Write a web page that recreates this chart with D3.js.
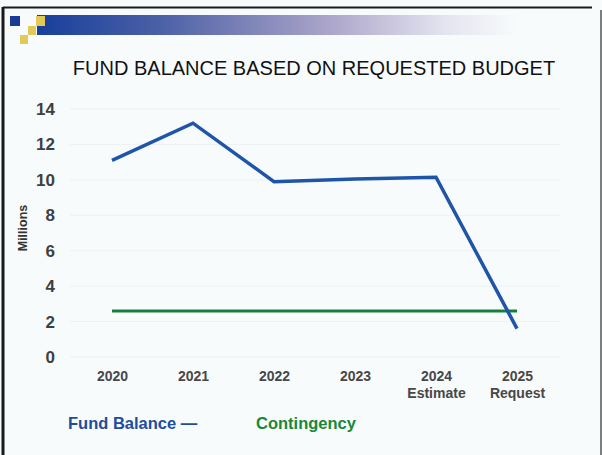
<!DOCTYPE html>
<html><head><meta charset="utf-8">
<script src="https://cdn.jsdelivr.net/npm/d3@7"></script>
<style>
body{margin:0;background:#fff;}
svg{display:block;}
</style></head>
<body>
<svg id="c" width="602" height="455"></svg>
<script>
const categories = ["2020","2021","2022","2023","2024\nEstimate","2025\nRequest"];
const fundBalance = [11.1, 13.2, 9.9, 10.05, 10.15, 1.6];
const contingency = [2.6, 2.6, 2.6, 2.6, 2.6, 2.6];
const yTicks = [0,2,4,6,8,10,12,14];
const title = "FUND BALANCE BASED ON REQUESTED BUDGET";
const yTitle = "Millions";
const legendItems = [{name:"Fund Balance —", color:"#1e4d9e"},{name:"Contingency", color:"#17883a"}];

const svg = d3.select("#c");
const W = 602, H = 455;

// background
svg.append("rect").attr("width",W).attr("height",H).attr("fill","#f8fbfc");
// frame
svg.append("line").attr("x1",3).attr("x2",592).attr("y1",7.5).attr("y2",7.5).attr("stroke","#1a1a1a").attr("stroke-width",2);
svg.append("line").attr("x1",3).attr("x2",3).attr("y1",7).attr("y2",H).attr("stroke","#1a1a1a").attr("stroke-width",3);
svg.append("line").attr("x1",601).attr("x2",601).attr("y1",10).attr("y2",H).attr("stroke","#555").attr("stroke-width",1.5);

// header gradient bar
const defs = svg.append("defs");
const g = defs.append("linearGradient").attr("id","hg").attr("x1","0").attr("x2","1");
g.append("stop").attr("offset","0").attr("stop-color","#173f9c");
g.append("stop").attr("offset","0.25").attr("stop-color","#4a5fa6");
g.append("stop").attr("offset","0.6").attr("stop-color","#a9a3c8");
g.append("stop").attr("offset","0.85").attr("stop-color","#e4e4ef");
g.append("stop").attr("offset","1").attr("stop-color","#f8fbfc");
svg.append("rect").attr("x",37).attr("y",15).attr("width",480).attr("height",20).attr("fill","url(#hg)");
svg.append("rect").attr("x",10).attr("y",16).attr("width",10).attr("height",10).attr("fill","#1a3a96");
svg.append("rect").attr("x",36).attr("y",16).attr("width",9).attr("height",10).attr("fill","#e3c95a");
svg.append("rect").attr("x",28).attr("y",26).attr("width",8).attr("height",9).attr("fill","#e3c95a");
svg.append("rect").attr("x",20).attr("y",35).attr("width",8).attr("height",9).attr("fill","#e3c95a");

// title
svg.append("text").attr("x",314).attr("y",75).attr("text-anchor","middle")
  .attr("font-family","Liberation Sans, Arial, sans-serif").attr("font-size",20)
  .attr("fill","#111").text(title);

// scales
const x = d3.scalePoint().domain(categories).range([112, 517]);
const y = d3.scaleLinear().domain([0,14]).range([357, 109]);

// faint gridlines
svg.append("g").selectAll("line").data(yTicks).join("line")
  .attr("x1",70).attr("x2",560).attr("y1",d=>y(d)).attr("y2",d=>y(d))
  .attr("stroke","#eef1f3").attr("stroke-width",1);

// y axis
const yAxis = svg.append("g").attr("transform","translate(55,0)")
  .call(d3.axisLeft(y).tickValues(yTicks).tickSize(0).tickPadding(0).tickFormat(d3.format("d")));
yAxis.select(".domain").remove();
yAxis.selectAll("text").attr("font-family","Liberation Sans, Arial, sans-serif")
  .attr("font-size",17).attr("font-weight","bold").attr("fill","#3f3f3f");

svg.append("text").attr("transform","translate(27,228) rotate(-90)").attr("text-anchor","middle")
  .attr("font-family","Liberation Sans, Arial, sans-serif").attr("font-size",12.5)
  .attr("font-weight","bold").attr("fill","#333").text(yTitle);

// x axis
const xAxis = svg.append("g").attr("transform","translate(0,367)")
  .call(d3.axisBottom(x).tickSize(0).tickPadding(0).tickFormat(()=>""));
xAxis.select(".domain").remove();
xAxis.selectAll(".tick").each(function(d){
  const t = d3.select(this).select("text").attr("y",14).attr("dy",null)
    .attr("font-family","Liberation Sans, Arial, sans-serif").attr("font-size",14)
    .attr("font-weight","bold").attr("fill","#474747");
  d.split("\n").forEach((s,i)=>{
    t.append("tspan").attr("x",0).attr("dy", i===0 ? 0 : 17).text(s);
  });
});

// lines
const line = d3.line().x((d,i)=>x(categories[i])).y(d=>y(d));
svg.append("path").datum(contingency).attr("d",line).attr("fill","none")
  .attr("stroke","#16803a").attr("stroke-width",3);
svg.append("path").datum(fundBalance).attr("d",line).attr("fill","none")
  .attr("stroke","#1f55a8").attr("stroke-width",3.5).attr("stroke-linejoin","miter");

// legend
const lx = [68, 256];
svg.append("g").selectAll("text").data(legendItems).join("text")
  .attr("x",(d,i)=>lx[i]).attr("y",429)
  .attr("font-family","Liberation Sans, Arial, sans-serif").attr("font-size",16.5)
  .attr("font-weight","bold").attr("fill",d=>d.color).text(d=>d.name);
</script>
</body></html>
